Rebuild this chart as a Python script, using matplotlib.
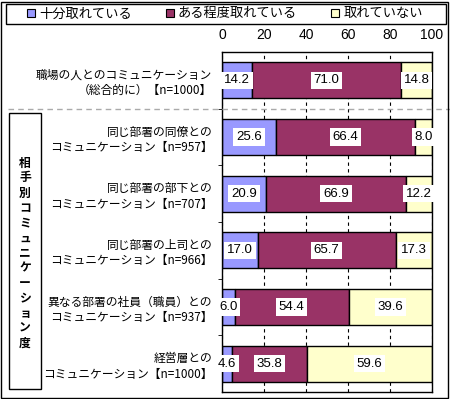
import matplotlib
matplotlib.use("Agg")
import matplotlib.pyplot as plt
import matplotlib.transforms as mtransforms
from matplotlib.patches import Rectangle, Patch
import numpy as np

plt.rcParams['font.family'] = ['Noto Sans CJK JP', 'DejaVu Sans']

categories = [
    "職場の人とのコミュニケーション\n（総合的に）【n=1000】",
    "同じ部署の同僚との\nコミュニケーション【n=957】",
    "同じ部署の部下との\nコミュニケーション【n=707】",
    "同じ部署の上司との\nコミュニケーション【n=966】",
    "異なる部署の社員（職員）との\nコミュニケーション【n=937】",
    "経営層との\nコミュニケーション【n=1000】",
]
series_names = ["十分取れている", "ある程度取れている", "取れていない"]
enough = [14.2, 25.6, 20.9, 17.0, 6.0, 4.6]
somewhat = [71.0, 66.4, 66.9, 65.7, 54.4, 35.8]
not_enough = [14.8, 8.0, 12.2, 17.3, 39.6, 59.6]
x_ticks = [0, 20, 40, 60, 80, 100]
side_label = "相手別コミュニケーション度"

colors = ["#9999FF", "#993366", "#FFFFCC"]
num_font = ["Liberation Sans", "DejaVu Sans"]

W, H = 450, 399
fig = plt.figure(figsize=(W / 100, H / 100), dpi=100)
ax = fig.add_axes([222 / W, 1 - 392 / H, (432 - 222) / W, (392 - 52) / H])

y = np.arange(len(categories))
left = np.zeros(len(categories))
for vals, col, name in zip([enough, somewhat, not_enough], colors, series_names):
    vals = np.array(vals)
    ax.barh(y, vals, left=left, height=0.64, color=col, edgecolor="black",
            linewidth=1, label=name, zorder=2)
    for yi, l, v in zip(y, left, vals):
        ax.text(l + v / 2, yi, f"{v:.1f}", ha="center", va="center",
                fontsize=9.5, family=num_font, zorder=5,
                bbox=dict(facecolor="white", edgecolor="none", pad=2))
    left = left + vals

ax.set_xlim(0, 100)
ax.set_ylim(len(categories) - 0.5, -0.5)
ax.set_xticks(x_ticks)
ax.xaxis.tick_top()
ax.tick_params(axis="x", length=0, pad=7, labelsize=10)
for lbl in ax.get_xticklabels():
    lbl.set_family(num_font)
ax.set_yticks(y)
ax.set_yticklabels(categories, fontsize=8.5, linespacing=1.25)
ax.tick_params(axis="y", length=0, pad=7)
ax.set_yticks(np.arange(len(categories) - 1) + 0.5, minor=True)
ax.tick_params(axis="y", which="minor", length=3, direction="out")
ax.grid(axis="x", color="black", linestyle=(0, (3, 3)), linewidth=0.8)
ax.set_axisbelow(True)
for s in ax.spines.values():
    s.set_linewidth(1)

# separator dashed line
trans = mtransforms.blended_transform_factory(fig.transFigure, ax.transData)
ax.plot([8 / W, 1.0], [0.5, 0.5], transform=trans, color="#AAAAAA",
        linestyle=(0, (4, 3)), linewidth=1, clip_on=False, zorder=6)

# side box with vertical text
fig.patches.append(Rectangle((9 / W, 1 - 389 / H), 32 / W, 276 / H,
                             transform=fig.transFigure, fill=False,
                             edgecolor="black", linewidth=1))
n = len(side_label)
y0, y1 = 163, 343
for i, ch in enumerate(side_label):
    yy = y0 + (y1 - y0) * i / (n - 1)
    fig.text(25 / W, 1 - yy / H, ch, ha="center", va="center",
             fontsize=8.5, fontweight="bold")

# legend
fig.patches.append(Rectangle((6 / W, 1 - 24 / H), 440 / W, 20 / H,
                             transform=fig.transFigure, fill=False,
                             edgecolor="black", linewidth=1))
handles = [Patch(facecolor=c, edgecolor="black", linewidth=0.8) for c in colors]
fig.legend(handles, series_names, loc="center", bbox_to_anchor=(225 / W, 1 - 14 / H),
           ncol=3, frameon=False, fontsize=9.5, handlelength=0.6, handleheight=0.6,
           handletextpad=0.3, columnspacing=2.6, borderpad=0, borderaxespad=0)

# outer border
fig.patches.append(Rectangle((1 / W, 1 / H), (W - 3) / W, (H - 3) / H,
                             transform=fig.transFigure, fill=False,
                             edgecolor="black", linewidth=1))

fig.savefig("out.png", dpi=100)
